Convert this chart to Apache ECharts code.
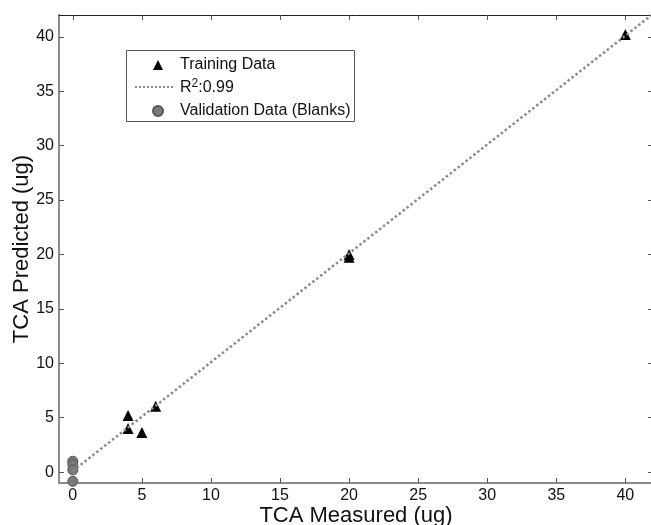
<!DOCTYPE html>
<html>
<head>
<meta charset="utf-8">
<script src="https://cdn.jsdelivr.net/npm/echarts@6/dist/echarts.min.js"></script>
<style>
  html, body { margin: 0; padding: 0; background: #fff; }
  #chart { width: 651px; height: 525px; }
</style>
</head>
<body>
<div id="chart"></div>
<script>
// data
var trainingData = [[4, 5.2], [4, 4.0], [5, 3.65], [6, 6.05], [20, 20.0], [20, 19.75], [40, 40.2]];
var fitLine = [[0, 0.1], [41.9, 42]];
var blanksData = [[0, 1.0], [0, 0.7], [0, 0.2], [0, -0.85]];
var tickValues = [0, 5, 10, 15, 20, 25, 30, 35, 40];

var myChart = echarts.init(document.getElementById('chart'));
var font = 'Liberation Sans, Arial, sans-serif';

function mainAxis(name, gap, pos) {
    return {
        type: 'value',
        position: pos,
        min: -1,
        max: 42,
        name: name,
        nameLocation: 'middle',
        nameGap: gap,
        nameMoveOverlap: false,
        nameTextStyle: { color: '#111', fontSize: 22, fontFamily: font },
        axisLine: { show: true, onZero: false, lineStyle: { color: '#8c8c8c', width: 2 } },
        axisTick: { show: true, inside: true, length: 5, customValues: tickValues, lineStyle: { color: '#555' } },
        axisLabel: { customValues: tickValues, color: '#111', fontSize: 16, fontFamily: font, margin: 5 },
        splitLine: { show: false }
    };
}

function boxAxis(pos, showLine) {
    return {
        type: 'value',
        position: pos,
        min: -1,
        max: 42,
        axisLine: { show: showLine, onZero: false, lineStyle: { color: '#222', width: 1 } },
        axisTick: { show: true, inside: true, length: 5, customValues: tickValues, lineStyle: { color: '#555' } },
        axisLabel: { show: false },
        splitLine: { show: false }
    };
}

var legendText = { color: '#111', fontSize: 16, fontFamily: font };

var option = {
    animation: false,
    grid: { left: 59, top: 15, width: 594, height: 468, outerBoundsMode: 'none' },
    graphic: [{
        type: 'rect',
        shape: { x: 126.5, y: 50.5, width: 228, height: 71 },
        style: { fill: '#fff', stroke: '#555', lineWidth: 1 },
        z: 90
    }],
    legend: [
        {
            orient: 'vertical',
            left: 152,
            top: 57,
            padding: 0,
            itemGap: 30,
            itemWidth: 10,
            itemHeight: 10,
            z: 100,
            textStyle: Object.assign({ padding: [0, 0, 0, 12] }, legendText),
            data: ['Training Data', 'Validation Data (Blanks)']
        },
        {
            orient: 'vertical',
            left: 134,
            top: 78,
            padding: 0,
            itemWidth: 39,
            itemHeight: 10,
            z: 100,
            textStyle: Object.assign({
                padding: [0, 0, 0, 1],
                rich: {
                    r: { fontSize: 16, fontFamily: font, color: '#111', verticalAlign: 'bottom' },
                    s: { fontSize: 12, fontFamily: font, color: '#111', verticalAlign: 'bottom', padding: [0, 0, 6, 0] }
                }
            }, legendText),
            formatter: function () { return '{r|R}{s|2}{r|:0.99}'; },
            data: [{ name: 'R²:0.99', itemStyle: { opacity: 0 } }]
        }
    ],
    xAxis: [mainAxis('TCA Measured (ug)', 22, 'bottom'), boxAxis('top', true)],
    yAxis: [mainAxis('TCA Predicted (ug)', 26, 'left'), boxAxis('right', false)],
    series: [
        {
            name: 'Training Data',
            type: 'scatter',
            symbol: 'triangle',
            symbolSize: 11,
            itemStyle: { color: '#000', opacity: 1 },
            data: trainingData
        },
        {
            name: 'R²:0.99',
            type: 'line',
            symbol: 'none',
            lineStyle: { color: '#8a8a8a', width: 2.5, type: 'dotted' },
            itemStyle: { color: '#8a8a8a' },
            data: fitLine
        },
        {
            name: 'Validation Data (Blanks)',
            type: 'scatter',
            symbol: 'circle',
            symbolSize: 10,
            itemStyle: { color: '#7a7a7a', borderColor: '#555', borderWidth: 1, opacity: 1 },
            data: blanksData
        }
    ]
};
myChart.setOption(option);
</script>
</body>
</html>
